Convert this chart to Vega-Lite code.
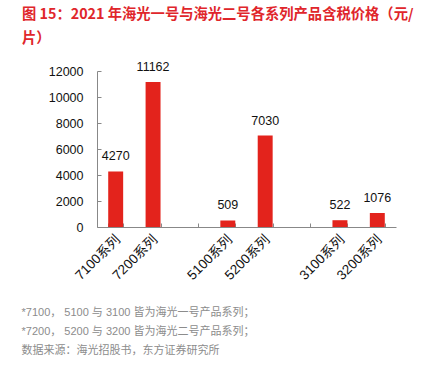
{
  "$schema": "https://vega.github.io/schema/vega-lite/v6.json",
  "autosize": "none",
  "width": 299,
  "height": 156,
  "padding": {"left": 97, "top": 71, "right": 40, "bottom": 150},
  "background": "white",
  "config": {"view": {"stroke": null}, "font": "Liberation Sans, Noto Sans CJK SC"},
  "title": {
    "text": ["图 15：2021 年海光一号与海光二号各系列产品含税价格（元/", "片）"],
    "anchor": "start",
    "frame": "group",
    "dx": -75,
    "offset": 15,
    "lineHeight": 24,
    "fontSize": 14.3,
    "fontWeight": "bold",
    "color": "#E0262B",
    "font": "Noto Sans CJK SC"
  },
  "data": {
    "values": [
      {"series": "7100系列", "price": 4270},
      {"series": "7200系列", "price": 11162},
      {"series": "5100系列", "price": 509},
      {"series": "5200系列", "price": 7030},
      {"series": "3100系列", "price": 522},
      {"series": "3200系列", "price": 1076}
    ]
  },
  "encoding": {
    "x": {
      "field": "series",
      "type": "nominal",
      "sort": null,
      "scale": {
        "domain": ["7100系列", "7200系列", "gapA", "5100系列", "5200系列", "gapB", "3100系列", "3200系列"],
        "paddingInner": 0.6,
        "paddingOuter": 0.3
      },
      "axis": {
        "title": ["*7100， 5100 与 3100 皆为海光一号产品系列；", "*7200， 5200 与 3200 皆为海光二号产品系列；", "数据来源：海光招股书，东方证券研究所"],
        "titleFontSize": 11,
        "titleFontWeight": "normal",
        "titleColor": "#8c8c8c",
        "titleAlign": "left",
        "titleAnchor": "start",
        "titleBaseline": "top",
        "titleX": -76,
        "titleY": 79,
        "titleLineHeight": 19,
        "titleFont": "Liberation Sans, Noto Sans CJK SC",
        "labelExpr": "indexof(datum.label,'系列')>=0 ? datum.label : ''",
        "labelAngle": -45,
        "labelAlign": "right",
        "labelBaseline": "middle",
        "labelFontSize": 13.5,
        "labelColor": "#111",
        "labelPadding": 14,
        "labelOffset": 2,
        "tickBand": "extent",
        "tickSize": -4,
        "tickColor": "#888",
        "domainColor": "#888",
        "grid": false
      }
    },
    "y": {
      "field": "price",
      "type": "quantitative",
      "scale": {"domain": [0, 12000], "nice": false},
      "axis": {
        "title": null,
        "values": [0, 2000, 4000, 6000, 8000, 10000, 12000],
        "format": "d",
        "labelFontSize": 12.5,
        "labelColor": "#111",
        "labelPadding": 18,
        "tickSize": -4,
        "tickColor": "#888",
        "domainColor": "#888",
        "grid": false
      }
    }
  },
  "layer": [
    {"mark": {"type": "bar", "color": "#E3231C"}},
    {
      "mark": {"type": "text", "baseline": "bottom", "dy": -8, "fontSize": 12.5, "color": "#111"},
      "encoding": {"text": {"field": "price", "type": "quantitative", "format": "d"}}
    }
  ]
}
